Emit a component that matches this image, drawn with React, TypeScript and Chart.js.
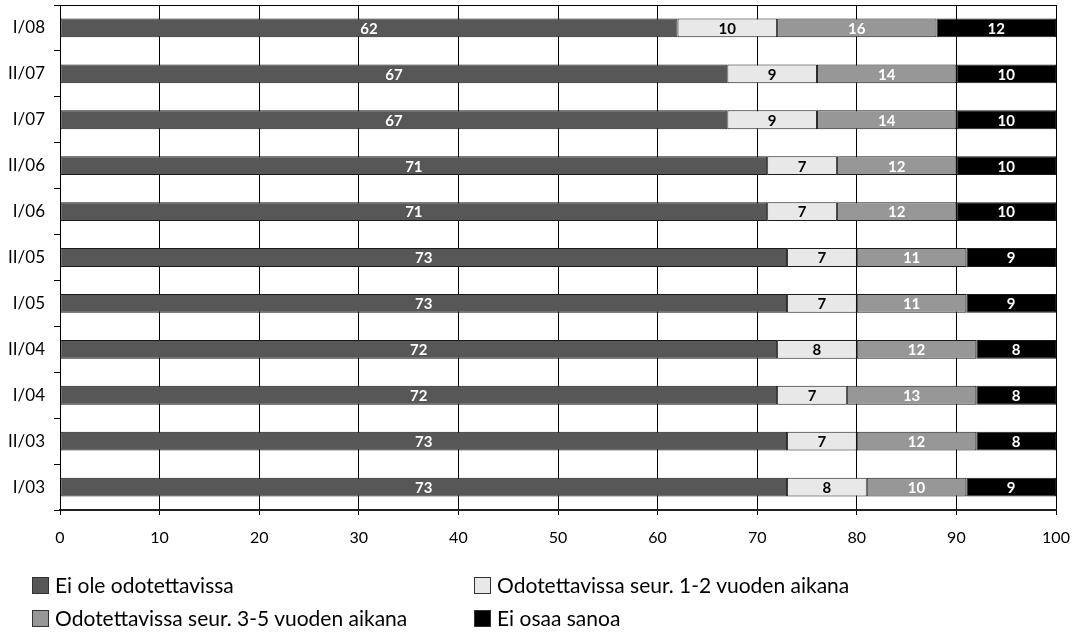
import React, { useEffect, useRef } from "react";
import { Chart, registerables } from "chart.js";

Chart.register(...registerables);

const categories = ["I/08", "II/07", "I/07", "II/06", "I/06", "II/05", "I/05", "II/04", "I/04", "II/03", "I/03"];
const seriesNames = [
  "Ei ole odotettavissa",
  "Odotettavissa seur. 1-2 vuoden aikana",
  "Odotettavissa seur. 3-5 vuoden aikana",
  "Ei osaa sanoa",
];
const eiOle = [62, 67, 67, 71, 71, 73, 73, 72, 72, 73, 73];
const seur12 = [10, 9, 9, 7, 7, 7, 7, 8, 7, 7, 8];
const seur35 = [16, 14, 14, 12, 12, 11, 11, 12, 13, 12, 10];
const eiOsaa = [12, 10, 10, 10, 10, 9, 9, 8, 8, 8, 9];
const xTicks = [0, 10, 20, 30, 40, 50, 60, 70, 80, 90, 100];

const fills = ["#575757", "#e8e8e8", "#979797", "#000000"];
const labelColors = ["#ffffff", "#000000", "#ffffff", "#ffffff"];
const FONT = "Lato";

const valueLabels = {
  id: "valueLabels",
  afterDatasetsDraw(chart: any) {
    const ctx = chart.ctx;
    ctx.save();
    ctx.font = `bold 15px ${FONT}`;
    ctx.textAlign = "center";
    ctx.textBaseline = "middle";
    chart.data.datasets.forEach((ds: any, di: number) => {
      const meta = chart.getDatasetMeta(di);
      meta.data.forEach((el: any, i: number) => {
        const p = el.getCenterPoint();
        ctx.fillStyle = labelColors[di];
        ctx.fillText(String(ds.data[i]), p.x, p.y + 1);
      });
    });
    ctx.restore();
  },
};

const topLine = {
  id: "topLine",
  afterDraw(chart: any) {
    const { ctx, chartArea } = chart;
    ctx.save();
    ctx.strokeStyle = "#000";
    ctx.lineWidth = 1;
    ctx.beginPath();
    ctx.moveTo(chartArea.left, Math.round(chartArea.top) + 0.5);
    ctx.lineTo(chartArea.right, Math.round(chartArea.top) + 0.5);
    ctx.stroke();
    ctx.restore();
  },
};

export default function App() {
  const ref = useRef<HTMLCanvasElement>(null);
  useEffect(() => {
    const values = [eiOle, seur12, seur35, eiOsaa];
    const chart = new Chart(ref.current!, {
      type: "bar",
      data: {
        labels: categories,
        datasets: values.map((d, i) => ({
          label: seriesNames[i],
          data: d,
          backgroundColor: fills[i],
          borderColor: "#1a1a1a",
          borderWidth: 1,
          borderSkipped: false,
          categoryPercentage: 1,
          barPercentage: 0.41,
        })),
      },
      options: {
        indexAxis: "y",
        responsive: false,
        animation: false,
        devicePixelRatio: 1,
        layout: { padding: { top: 5, right: 19, left: 0, bottom: 84 } },
        plugins: { legend: { display: false }, tooltip: { enabled: false } },
        scales: {
          x: {
            stacked: true,
            min: 0,
            max: 100,
            afterBuildTicks: (s: any) => {
              s.ticks = xTicks.map((v) => ({ value: v }));
            },
            afterFit: (s: any) => {
              s.height = 40;
              s.paddingLeft = 0;
              s.paddingRight = 0;
            },
            grid: { color: "#000", lineWidth: 1, tickLength: 5 },
            border: { color: "#222", width: 2 },
            ticks: { color: "#000", padding: 13, font: { family: FONT, size: 16 }, maxRotation: 0 },
          },
          y: {
            stacked: true,
            afterFit: (s: any) => {
              s.width = 60;
              s.paddingTop = 0;
              s.paddingBottom = 0;
            },
            grid: { offset: true, drawOnChartArea: false, color: "#000", tickLength: 6 },
            border: { color: "#000", width: 1 },
            ticks: { color: "#000", padding: 9, font: { family: FONT, size: 17 } },
          },
        },
      },
      plugins: [valueLabels, topLine],
    });
    return () => chart.destroy();
  }, []);

  const legendItem = (i: number, left: number, top: number) => (
    <div
      key={i}
      style={{
        position: "absolute",
        left,
        top,
        display: "flex",
        alignItems: "center",
        fontFamily: FONT,
        fontSize: 21,
        color: "#000",
        whiteSpace: "nowrap",
        lineHeight: "22px",
      }}
    >
      <span
        style={{
          display: "inline-block",
          width: 15,
          height: 15,
          background: fills[i],
          border: "1px solid #333",
          marginRight: 6,
        }}
      />
      {seriesNames[i]}
    </div>
  );

  return (
    <div style={{ position: "absolute", left: 0, top: 0, width: 1075, height: 634, background: "#fff" }}>
      <canvas ref={ref} width={1075} height={634} style={{ width: 1075, height: 634, display: "block" }} />
      {legendItem(0, 32, 574)}
      {legendItem(1, 474, 574)}
      {legendItem(2, 32, 607)}
      {legendItem(3, 474, 607)}
    </div>
  );
}
